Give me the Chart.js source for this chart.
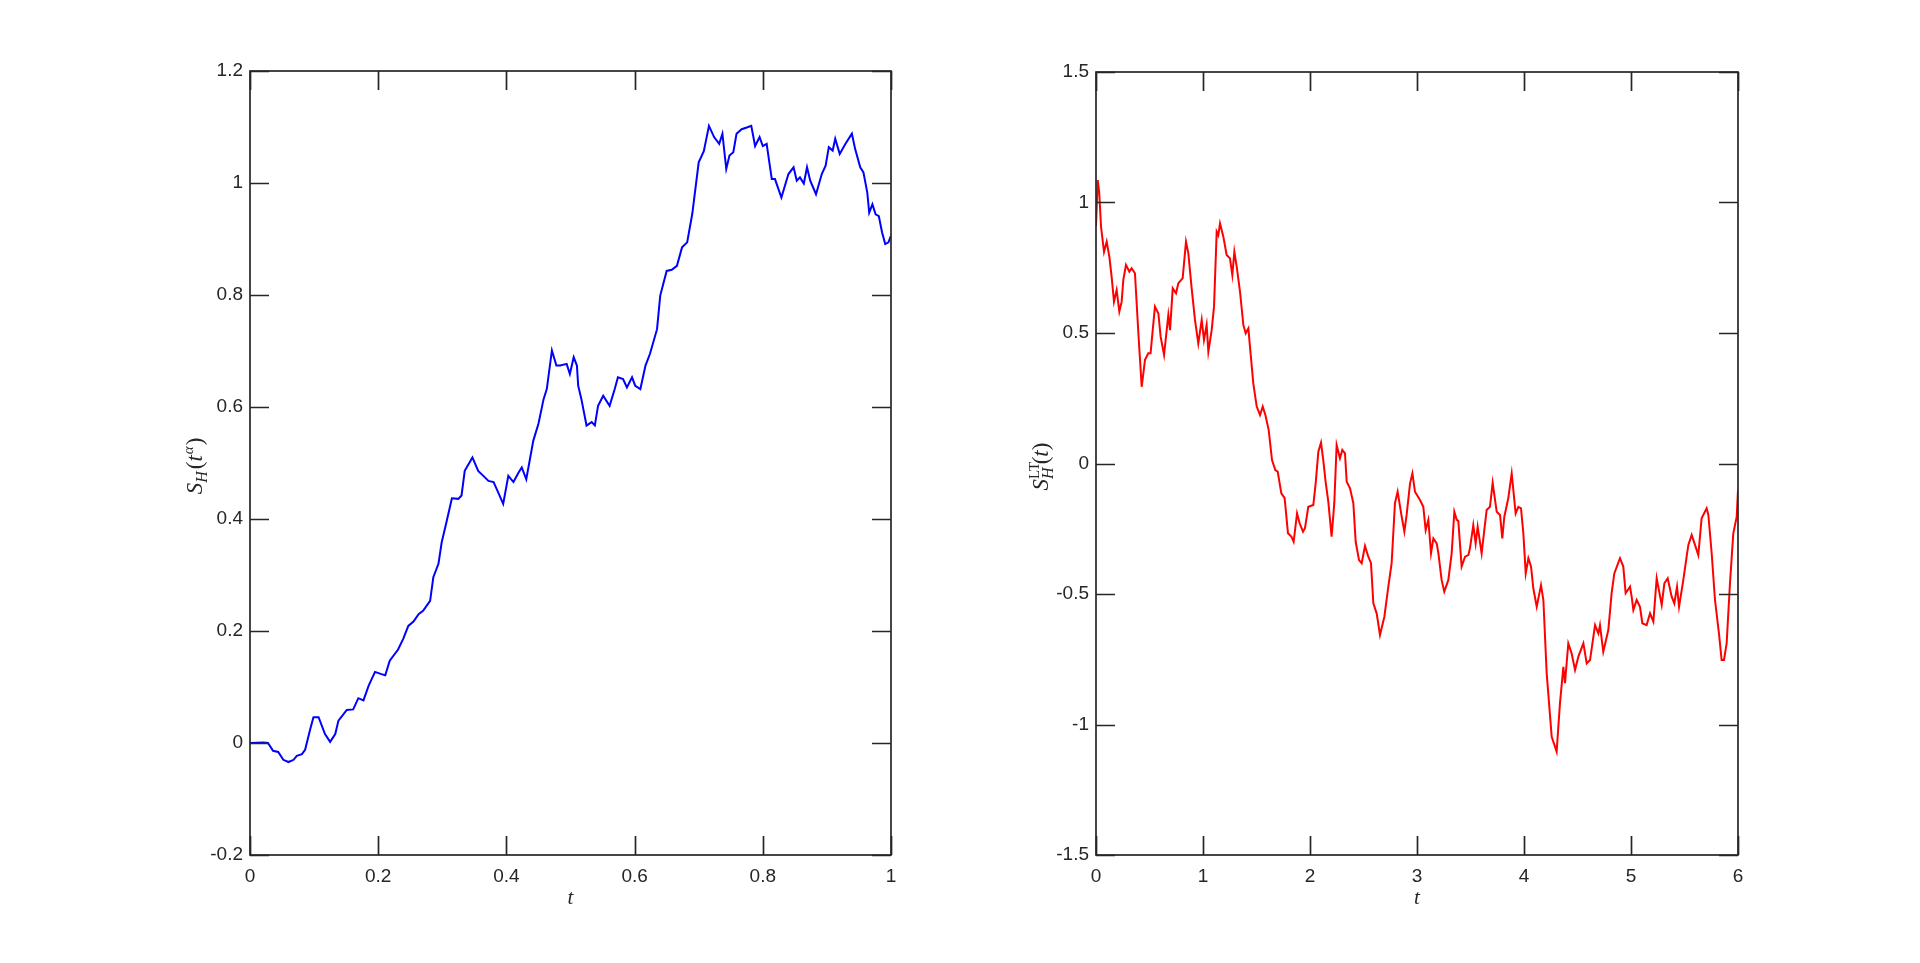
<!DOCTYPE html>
<html><head><meta charset="utf-8">
<script src="https://cdn.jsdelivr.net/npm/chart.js@4.4.1/dist/chart.umd.min.js"></script>
<style>
html,body{margin:0;padding:0;background:#fff;overflow:hidden}
#c1{position:absolute;left:0;top:0}
#c2{position:absolute;left:960px;top:0}
</style></head><body>
<canvas id="c1" width="960" height="963"></canvas>
<canvas id="c2" width="960" height="963"></canvas>
<script>
// ---------- data ----------
const leftT = [0,0.021,0.028,0.036,0.044,0.052,0.060,0.068,0.073,0.081,0.086,0.094,0.099,0.107,0.117,0.125,0.133,0.138,0.151,0.161,0.169,0.177,0.185,0.195,0.205,0.211,0.218,0.231,0.239,0.247,0.255,0.263,0.270,0.281,0.286,0.294,0.299,0.307,0.315,0.325,0.330,0.335,0.347,0.356,0.364,0.372,0.380,0.387,0.395,0.403,0.411,0.419,0.424,0.431,0.442,0.450,0.458,0.463,0.471,0.478,0.484,0.494,0.499,0.505,0.510,0.512,0.517,0.525,0.533,0.538,0.543,0.551,0.561,0.569,0.574,0.582,0.588,0.596,0.601,0.609,0.617,0.624,0.635,0.640,0.650,0.658,0.666,0.674,0.682,0.690,0.700,0.708,0.716,0.724,0.732,0.737,0.743,0.748,0.754,0.759,0.767,0.775,0.782,0.788,0.795,0.800,0.806,0.814,0.819,0.829,0.840,0.848,0.853,0.858,0.864,0.869,0.874,0.883,0.892,0.898,0.903,0.909,0.913,0.920,0.929,0.939,0.944,0.952,0.957,0.963,0.966,0.971,0.976,0.981,0.986,0.991,0.996,1.000];
const leftS = [0.000,0.001,0.000,-0.014,-0.016,-0.030,-0.034,-0.030,-0.023,-0.020,-0.012,0.025,0.046,0.046,0.016,0.002,0.016,0.040,0.059,0.060,0.080,0.076,0.102,0.127,0.123,0.121,0.147,0.167,0.186,0.209,0.217,0.230,0.236,0.254,0.296,0.320,0.358,0.397,0.437,0.436,0.442,0.486,0.510,0.486,0.477,0.468,0.466,0.448,0.427,0.477,0.466,0.483,0.492,0.471,0.540,0.570,0.614,0.632,0.701,0.674,0.674,0.677,0.659,0.689,0.674,0.638,0.614,0.567,0.573,0.567,0.602,0.620,0.602,0.632,0.653,0.650,0.635,0.653,0.638,0.632,0.674,0.695,0.739,0.799,0.843,0.845,0.852,0.885,0.894,0.945,1.037,1.057,1.102,1.082,1.070,1.088,1.025,1.049,1.055,1.088,1.096,1.099,1.102,1.066,1.082,1.066,1.070,1.007,1.007,0.974,1.016,1.028,1.004,1.010,0.999,1.028,1.004,0.980,1.016,1.031,1.064,1.058,1.079,1.052,1.070,1.088,1.061,1.028,1.019,0.983,0.947,0.962,0.944,0.941,0.912,0.891,0.894,0.906];

const rightT = [0.000,0.016,0.030,0.047,0.075,0.100,0.125,0.146,0.168,0.193,0.218,0.240,0.255,0.280,0.312,0.333,0.364,0.396,0.427,0.458,0.489,0.510,0.530,0.551,0.583,0.604,0.636,0.676,0.692,0.717,0.748,0.769,0.810,0.841,0.863,0.894,0.925,0.956,0.988,1.009,1.034,1.050,1.081,1.103,1.128,1.143,1.159,1.190,1.221,1.252,1.274,1.293,1.315,1.346,1.377,1.399,1.424,1.439,1.470,1.502,1.533,1.558,1.583,1.614,1.645,1.676,1.698,1.732,1.763,1.794,1.826,1.847,1.879,1.903,1.935,1.953,1.984,2.031,2.053,2.078,2.103,2.124,2.146,2.171,2.202,2.227,2.249,2.280,2.302,2.327,2.343,2.374,2.405,2.427,2.458,2.483,2.514,2.545,2.570,2.592,2.623,2.654,2.695,2.732,2.763,2.794,2.819,2.857,2.882,2.903,2.935,2.957,2.981,3.028,3.059,3.081,3.106,3.131,3.153,3.184,3.200,3.230,3.255,3.293,3.324,3.349,3.371,3.386,3.417,3.449,3.480,3.495,3.526,3.548,3.567,3.604,3.629,3.651,3.682,3.707,3.745,3.776,3.797,3.816,3.853,3.885,3.922,3.947,3.972,3.994,4.016,4.041,4.066,4.087,4.119,4.159,4.181,4.212,4.259,4.305,4.336,4.368,4.383,4.414,4.445,4.477,4.508,4.555,4.586,4.617,4.664,4.695,4.710,4.741,4.788,4.819,4.844,4.897,4.928,4.950,4.991,5.006,5.022,5.053,5.084,5.106,5.146,5.178,5.209,5.240,5.287,5.312,5.343,5.380,5.405,5.430,5.449,5.489,5.520,5.536,5.567,5.598,5.629,5.660,5.707,5.723,5.754,5.785,5.822,5.847,5.869,5.894,5.925,5.956,5.988,6.000];
const rightS = [0.910,1.086,1.040,0.907,0.811,0.850,0.792,0.716,0.620,0.665,0.582,0.620,0.703,0.761,0.735,0.748,0.729,0.499,0.294,0.397,0.422,0.422,0.511,0.601,0.575,0.486,0.416,0.569,0.511,0.671,0.652,0.690,0.710,0.850,0.805,0.671,0.550,0.460,0.550,0.473,0.531,0.428,0.511,0.601,0.888,0.875,0.920,0.869,0.799,0.786,0.722,0.811,0.754,0.658,0.531,0.499,0.518,0.448,0.307,0.218,0.186,0.218,0.186,0.128,0.013,-0.025,-0.031,-0.114,-0.133,-0.267,-0.280,-0.300,-0.191,-0.229,-0.261,-0.248,-0.166,-0.159,-0.076,0.045,0.080,0.013,-0.070,-0.146,-0.280,-0.152,0.071,0.020,0.052,0.039,-0.070,-0.095,-0.152,-0.300,-0.370,-0.382,-0.316,-0.357,-0.382,-0.536,-0.574,-0.657,-0.587,-0.472,-0.382,-0.152,-0.108,-0.204,-0.261,-0.197,-0.076,-0.038,-0.108,-0.140,-0.166,-0.255,-0.216,-0.344,-0.287,-0.306,-0.344,-0.446,-0.491,-0.446,-0.344,-0.185,-0.216,-0.220,-0.395,-0.357,-0.351,-0.325,-0.236,-0.306,-0.242,-0.344,-0.255,-0.178,-0.166,-0.074,-0.185,-0.197,-0.287,-0.204,-0.133,-0.038,-0.191,-0.166,-0.172,-0.268,-0.421,-0.363,-0.395,-0.478,-0.549,-0.466,-0.523,-0.804,-1.047,-1.104,-0.919,-0.779,-0.842,-0.689,-0.727,-0.791,-0.740,-0.689,-0.766,-0.753,-0.619,-0.651,-0.619,-0.721,-0.638,-0.497,-0.421,-0.363,-0.395,-0.497,-0.472,-0.510,-0.561,-0.523,-0.549,-0.612,-0.619,-0.574,-0.606,-0.440,-0.542,-0.459,-0.440,-0.510,-0.536,-0.472,-0.549,-0.446,-0.357,-0.312,-0.274,-0.312,-0.351,-0.210,-0.172,-0.197,-0.344,-0.523,-0.651,-0.753,-0.753,-0.689,-0.459,-0.268,-0.204,-0.102];

const leftXTicks = [0,0.2,0.4,0.6,0.8,1];
const leftXLabels = ['0','0.2','0.4','0.6','0.8','1'];
const leftYTicks = [-0.2,0,0.2,0.4,0.6,0.8,1,1.2];
const leftYLabels = ['-0.2','0','0.2','0.4','0.6','0.8','1','1.2'];
const rightXTicks = [0,1,2,3,4,5,6];
const rightXLabels = ['0','1','2','3','4','5','6'];
const rightYTicks = [-1.5,-1,-0.5,0,0.5,1,1.5];
const rightYLabels = ['-1.5','-1','-0.5','0','0.5','1','1.5'];

// ---------- style ----------
const AXIS = '#262626';
const TICK_FONT = {family:'"Liberation Sans", Arial, sans-serif', size:19};
const MATH = '"Liberation Serif", "Times New Roman", serif';
const TL = 19;

function drawRich(ctx, parts, cx, cy) {
  let total = 0; const widths = [];
  parts.forEach(p => {
    ctx.font = (p.italic ? 'italic ' : '') + p.size + 'px ' + MATH;
    const w = ctx.measureText(p.t).width + (p.gap || 0);
    widths.push(w);
    if (!p.stack) total += w;
  });
  ctx.save();
  ctx.translate(cx, cy);
  ctx.rotate(-Math.PI / 2);
  ctx.fillStyle = AXIS;
  ctx.textBaseline = 'alphabetic';
  let x = -total / 2; let lastX = x;
  const base = 7;
  parts.forEach((p, i) => {
    ctx.font = (p.italic ? 'italic ' : '') + p.size + 'px ' + MATH;
    if (p.stack) {
      ctx.fillText(p.t, lastX, base + p.dy);
      return;
    }
    ctx.fillText(p.t, x, base + p.dy);
    lastX = x; x += widths[i];
  });
  ctx.restore();
}

function boxPlugin(titleParts) {
  return {
    id: 'boxTicks',
    afterDatasetsDraw(chart) {
      const {ctx, chartArea: a, scales: {x, y}} = chart;
      ctx.save();
      ctx.strokeStyle = AXIS; ctx.lineWidth = 1.7;
      ctx.beginPath();
      x.ticks.forEach(t => {
        const px = Math.round(x.getPixelForValue(t.value)) + 0.5;
        ctx.moveTo(px, a.bottom); ctx.lineTo(px, a.bottom - TL);
        ctx.moveTo(px, a.top); ctx.lineTo(px, a.top + TL);
      });
      y.ticks.forEach(t => {
        const py = Math.round(y.getPixelForValue(t.value)) + 0.5;
        ctx.moveTo(a.left, py); ctx.lineTo(a.left + TL, py);
        ctx.moveTo(a.right, py); ctx.lineTo(a.right - TL, py);
      });
      ctx.stroke();
      ctx.strokeRect(a.left, a.top, a.right - a.left, a.bottom - a.top);
      ctx.restore();
      drawRich(ctx, titleParts, a.left - 55, (a.top + a.bottom) / 2 + 3);
    }
  };
}

function makeChart(id, T, S, color, xT, xL, yT, yL, xr, yr, pad, titleParts) {
  const pts = T.map((t, i) => ({x: t, y: S[i]}));
  return new Chart(document.getElementById(id), {
    type: 'line',
    data: {datasets: [{data: pts, borderColor: color, borderWidth: 2, pointRadius: 0, tension: 0, fill: false}]},
    options: {
      responsive: false, animation: false,
      layout: {padding: pad},
      plugins: {legend: {display: false}, tooltip: {enabled: false}},
      scales: {
        x: {
          type: 'linear', min: xr[0], max: xr[1],
          afterBuildTicks: s => { s.ticks = xT.map(v => ({value: v})); },
          afterFit: s => { s.height = 108; },
          grid: {display: false, drawTicks: false}, border: {display: false},
          ticks: {callback: (v, i) => xL[i], font: TICK_FONT, color: AXIS, padding: 10, maxRotation: 0, autoSkip: false},
          title: {display: true, text: 't', color: AXIS, font: {family: MATH, style: 'italic', size: 21}, padding: {top: 0, bottom: 52}}
        },
        y: {
          type: 'linear', min: yr[0], max: yr[1],
          afterBuildTicks: s => { s.ticks = yT.map(v => ({value: v})); },
          afterFit: s => { s.width = 100; },
          grid: {display: false, drawTicks: false}, border: {display: false},
          ticks: {callback: (v, i) => yL[i], font: TICK_FONT, color: AXIS, padding: 7, autoSkip: false}
        }
      }
    },
    plugins: [boxPlugin(titleParts)]
  });
}

const leftTitle = [
  {t: 'S', size: 23, italic: true, dy: 0},
  {t: 'H', size: 16, italic: true, dy: 5, gap: 2},
  {t: '(', size: 23, italic: false, dy: 0},
  {t: 't', size: 23, italic: true, dy: 0, gap: 1},
  {t: 'α', size: 15, italic: true, dy: -9, gap: 1},
  {t: ')', size: 23, italic: false, dy: 0}
];
const rightTitle = [
  {t: 'S', size: 23, italic: true, dy: 0},
  {t: 'H', size: 16, italic: true, dy: 5, gap: 3},
  {t: 'LT', size: 15, italic: false, dy: -9, stack: true},
  {t: '(', size: 23, italic: false, dy: 0},
  {t: 't', size: 23, italic: true, dy: 0},
  {t: ')', size: 23, italic: false, dy: 0}
];

makeChart('c1', leftT, leftS, '#0000ff', leftXTicks, leftXLabels, leftYTicks, leftYLabels, [0, 1], [-0.2, 1.2], {left: 150, right: 69, top: 71, bottom: 0}, leftTitle);
makeChart('c2', rightT, rightS, '#ff0000', rightXTicks, rightXLabels, rightYTicks, rightYLabels, [0, 6], [-1.5, 1.5], {left: 36, right: 182, top: 72, bottom: 0}, rightTitle);
</script>
</body></html>
